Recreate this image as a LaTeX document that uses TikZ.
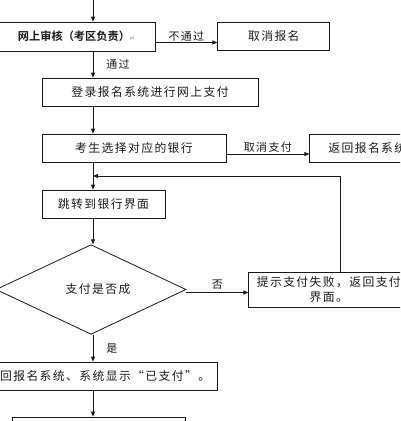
\documentclass[tikz,border=0pt]{standalone}
\usepackage{fontspec}
\newfontfamily\cjk[LetterSpace=12]{Noto Sans CJK SC}
\newfontfamily\cjkb{Noto Sans CJK SC Bold}
\newfontfamily\symb{DejaVu Sans}
\usetikzlibrary{arrows.meta,positioning,shapes.geometric}

\begin{document}
\begin{tikzpicture}[
  x=1pt, y=-1pt,
  color=black!90, line width=0.8pt,
  node distance=27pt and 62pt,
  box/.style={draw, rectangle, inner sep=0pt, minimum height=28pt,
    font=\cjk\fontsize{11.8}{15}\selectfont},
  lbl/.style={inner sep=1pt, font=\cjk\fontsize{11}{12}\selectfont},
  arr/.style={-{Triangle[length=5pt,width=4pt]}}
]
\useasboundingbox (0,0) rectangle (400,421);
\clip (0,0) rectangle (400,421);

% main column
\coordinate (top) at (93,-2);
\node[box, minimum width=157pt, minimum height=29pt] (rev) at (76.5,36.5)
  {{\cjkb\fontsize{11.2}{12}\selectfont 网上审核（考区负责）}{\symb\fontsize{6}{7}\selectfont\color{black!50}↵}};
\node[box, minimum width=216pt] (login) at (150,92) {登录报名系统进行网上支付};
\node[box, minimum width=184pt] (bank) at (134,148) {考生选择对应的银行};
\node[box, minimum width=123pt] (jump) at (103.5,204) {跳转到银行界面};
\node[draw, diamond, inner sep=0pt, minimum width=190pt, minimum height=89pt,
  font=\cjk\fontsize{11.8}{15}\selectfont] (dec) at (91,289.5) {\hspace{14pt}支付是否成};
\node[box, minimum width=237pt] (done) at (98.5,376) {返回报名系统、系统显示“已支付”。};
\node[box, minimum width=173pt, minimum height=36pt] (next) at (98.5,435) {};

% side boxes
\node[box, minimum width=112pt, right=62pt of rev] (cancel) {取消报名};
\node[box, minimum width=115pt, right=83pt of bank] (back) {返回报名系统};
\node[box, minimum width=160pt, minimum height=35pt, align=center,
  right=62pt of dec] (fail) {提示支付失败，返回支付\\界面。};
\coordinate (loop) at (93,176);

% connectors
\draw[arr] (top) -- (top |- rev.north);
\draw[arr] ([yshift=-6pt]rev.east) -- node[lbl, above] {不通过} ([yshift=-6pt]rev.east -| cancel.west);
\draw[arr] (rev.south -| top) -- node[lbl, right=12pt] {通过} (login.north -| top);
\draw[arr] (login.south -| top) -- (bank.north -| top);
\draw[arr] ([yshift=-6pt]bank.east) -- node[lbl, above] {取消支付} ([yshift=-6pt]bank.east -| back.west);
\draw[arr] (bank.south -| top) -- (jump.north -| top);
\draw[arr] (jump.south -| top) -- (dec.north -| top);
\draw[arr] ([xshift=12pt]fail.north) |- (loop);
\draw[arr] ([yshift=-3pt]dec.east) -- node[lbl, above=2pt] {否} ([yshift=-3pt]dec.east -| fail.west);
\draw[arr] (dec.south -| top) -- node[lbl, right=12pt] {是} (done.north -| top);
\draw[arr] (done.south -| top) -- (next.north -| top);
\end{tikzpicture}
\end{document}
